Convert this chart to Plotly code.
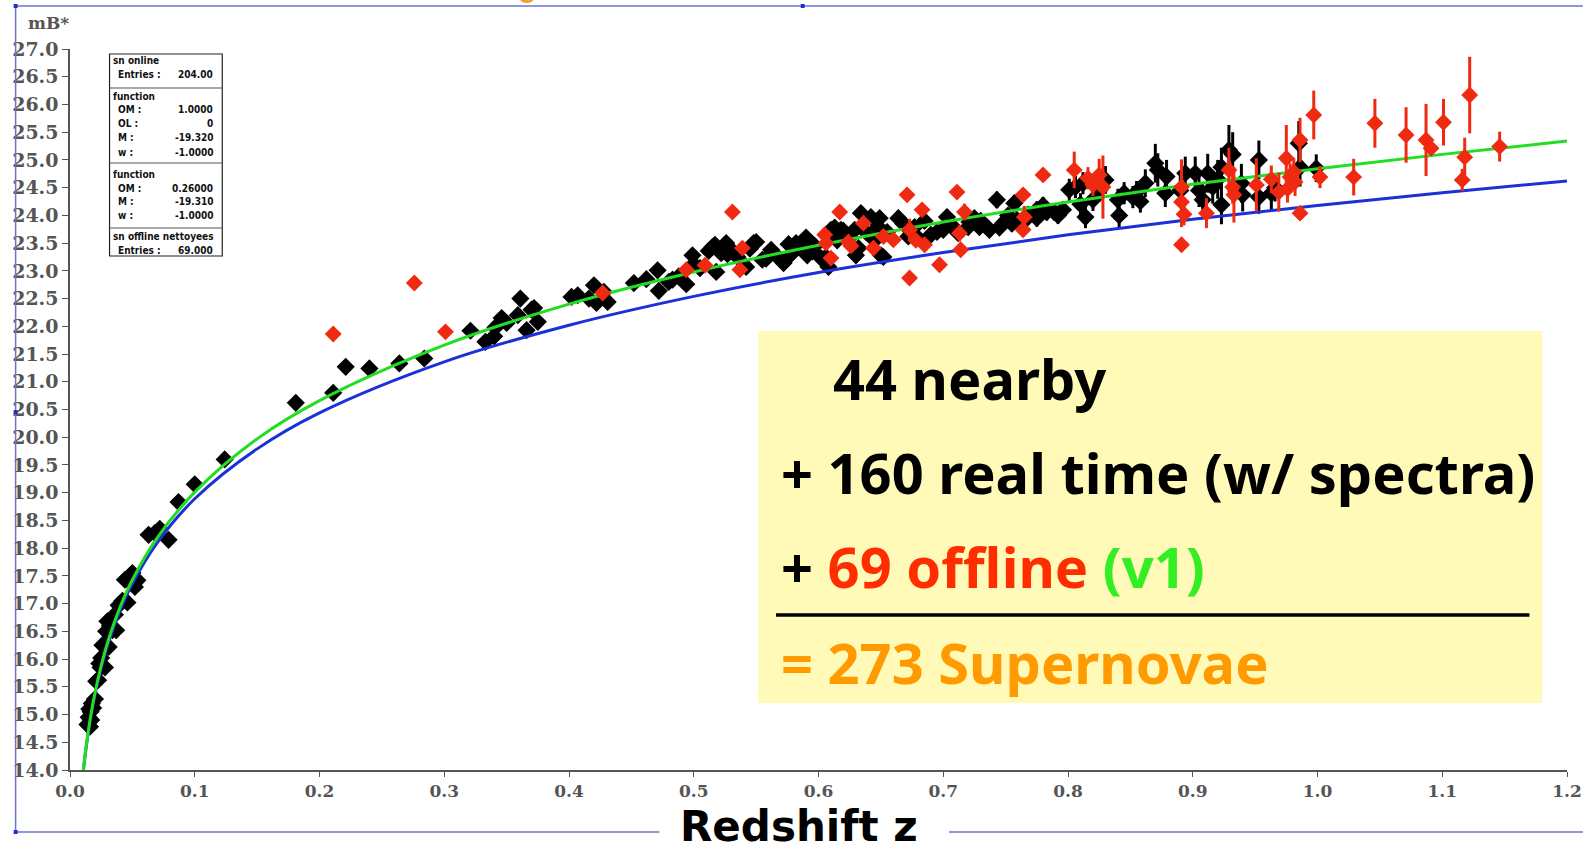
import plotly.graph_objects as go

# ---------------- data ----------------
# online SNe (black): nearby + real time
z_online = [
    0.0140, 0.0150, 0.0155, 0.0160, 0.0165, 0.0170, 0.0175, 0.0185, 0.0200, 0.0210,
    0.0225, 0.0235, 0.0245, 0.0250, 0.0260, 0.0280, 0.0285, 0.0290, 0.0300, 0.0310,
    0.0320, 0.0340, 0.0360, 0.0370, 0.0390, 0.0420, 0.0440, 0.0460, 0.0480, 0.0500,
    0.0520, 0.0540, 0.0630, 0.0680, 0.0720, 0.0790, 0.0870, 0.1000, 0.1240,
    0.181, 0.211, 0.221, 0.240, 0.264, 0.284, 0.321, 0.333, 0.340, 0.341,
    0.346, 0.350, 0.359, 0.361, 0.366, 0.370, 0.372, 0.375, 0.407, 0.416,
    0.420, 0.422, 0.431, 0.402, 0.428,
    0.452, 0.471, 0.472, 0.480, 0.483, 0.494, 0.499, 0.500, 0.515, 0.517,
    0.518, 0.522, 0.526, 0.527, 0.542, 0.548, 0.550, 0.555, 0.558, 0.572,
    0.576, 0.582, 0.584, 0.590, 0.591, 0.602, 0.606, 0.608, 0.610, 0.613,
    0.618, 0.620, 0.629, 0.630, 0.632, 0.512, 0.530, 0.565, 0.597,
    0.462, 0.488, 0.505, 0.535, 0.545, 0.562, 0.578, 0.595,
    0.615, 0.625, 0.638, 0.645, 0.655,
    0.634, 0.642, 0.649, 0.648, 0.650, 0.652, 0.664, 0.677, 0.679, 0.690,
    0.700, 0.703, 0.708, 0.720, 0.721, 0.729, 0.735, 0.737, 0.743, 0.748,
    0.757, 0.759, 0.768, 0.775, 0.783, 0.789, 0.796, 0.801, 0.806, 0.812,
    0.814, 0.820, 0.830, 0.840, 0.841, 0.852, 0.855, 0.862, 0.870, 0.872,
    0.878, 0.894, 0.902, 0.908, 0.912, 0.916,
    0.668, 0.685, 0.695, 0.712, 0.725, 0.745, 0.752, 0.765, 0.780, 0.792,
    0.672, 0.705, 0.730, 0.755, 0.775, 0.810, 0.825, 0.845, 0.858,
    0.923, 0.923, 0.929, 0.932, 0.939, 0.940, 0.953, 0.953, 0.963, 0.966,
    0.985, 0.986, 0.999, 0.879, 0.890, 0.905, 0.920,
]
m_online = [
    14.82, 14.95, 15.10, 14.78, 15.05, 14.90, 15.20, 15.12, 15.28, 15.60,
    15.62, 15.92, 15.85, 16.02, 16.25, 15.85, 16.22, 16.50, 16.68, 16.22,
    16.60, 16.52, 16.80, 16.52, 16.97, 17.05, 17.43, 17.02, 17.48, 17.55,
    17.30, 17.42, 18.24, 18.27, 18.35, 18.15, 18.83, 19.15, 19.60,
    20.62, 20.80, 21.27, 21.24, 21.33, 21.42, 21.92, 21.72, 21.82, 21.98,
    22.15, 22.06, 22.20, 22.50, 21.93, 22.30, 22.33, 22.08, 22.56, 22.50,
    22.74, 22.42, 22.44, 22.53, 22.62,
    22.78, 23.01, 22.64, 22.80, 22.84, 22.76, 23.28, 23.12, 23.43, 23.47,
    22.98, 23.32, 23.50, 23.30, 23.07, 23.50, 23.52, 23.20, 23.22, 23.14,
    23.48, 23.50, 23.44, 23.60, 23.28, 23.23, 23.25, 23.07, 23.74, 23.78,
    23.74, 23.72, 23.74, 23.28, 23.41, 23.36, 23.38, 23.30, 23.45,
    22.85, 22.90, 23.05, 23.25, 23.40, 23.38, 23.30, 23.35,
    23.55, 23.60, 23.70, 23.55, 23.70,
    24.04, 23.97, 23.95, 23.79, 23.28, 23.25, 23.95, 23.79, 23.61, 23.65,
    23.74, 23.97, 23.79, 23.79, 23.88, 23.79, 23.79, 23.74, 24.28, 23.86,
    24.22, 23.92, 24.01, 24.10, 24.06, 24.06, 24.10, 24.46, 24.51, 24.58,
    23.97, 24.28, 24.64, 24.28, 24.00, 24.33, 24.42, 24.58, 24.94, 24.82,
    24.40, 24.76, 24.76, 24.28, 24.76, 24.51,
    23.85, 23.90, 23.70, 23.68, 23.95, 23.78, 24.00, 23.90, 24.18, 24.00,
    23.62, 23.85, 23.90, 23.85, 23.95, 24.20, 24.45, 24.40, 24.25,
    24.19, 24.87, 25.18, 25.10, 24.58, 24.37, 25.00, 24.33, 24.40, 24.50,
    25.30, 24.87, 24.85, 24.70, 24.45, 24.45, 24.65,
]
e_online = (
    [0.08] * 39
    + [0.08] * 25
    + [0.08, 0.08, 0.08, 0.08, 0.08, 0.08, 0.08, 0.08, 0.08, 0.08,
       0.08, 0.10, 0.08, 0.08, 0.08, 0.10, 0.08, 0.08, 0.08, 0.08,
       0.10, 0.08, 0.08, 0.10, 0.08, 0.10, 0.10, 0.10, 0.10, 0.10,
       0.10, 0.10, 0.10, 0.10, 0.10, 0.08, 0.08, 0.08, 0.10]
    + [0.08, 0.08, 0.08, 0.08, 0.08, 0.08, 0.08, 0.10]
    + [0.10, 0.10, 0.10, 0.10, 0.10]
    + [0.12, 0.12, 0.12, 0.12, 0.14, 0.12, 0.14, 0.12, 0.12, 0.12,
       0.12, 0.14, 0.12, 0.14, 0.12, 0.12, 0.12, 0.12, 0.15, 0.12,
       0.15, 0.12, 0.15, 0.15, 0.15, 0.15, 0.15, 0.20, 0.20, 0.20,
       0.20, 0.20, 0.25, 0.20, 0.25, 0.20, 0.20, 0.25, 0.35, 0.30,
       0.25, 0.30, 0.30, 0.30, 0.35, 0.30]
    + [0.12, 0.12, 0.12, 0.12, 0.12, 0.12, 0.12, 0.14, 0.15, 0.15,
       0.12, 0.12, 0.12, 0.14, 0.15, 0.20, 0.20, 0.20, 0.20]
    + [0.35, 0.35, 0.45, 0.40, 0.35, 0.30, 0.35, 0.30, 0.30, 0.25,
       0.40, 0.35, 0.25, 0.30, 0.30, 0.30, 0.35]
)

# offline SNe (red)
z_offline = [
    0.211, 0.276, 0.301, 0.427,
    0.494, 0.509, 0.531, 0.539, 0.537,
    0.605, 0.606, 0.610, 0.617, 0.624,
    0.636, 0.644, 0.660, 0.671, 0.673, 0.673, 0.683, 0.685, 0.697, 0.711,
    0.713, 0.714, 0.717, 0.764, 0.765, 0.764, 0.780, 0.805, 0.816, 0.825, 0.828,
    0.891, 0.891, 0.891, 0.911, 0.929, 0.932, 0.933, 0.951, 0.969, 0.975,
    0.978, 0.981, 0.982, 0.986, 0.986, 0.997, 1.002, 1.029, 1.046, 1.071,
    1.087, 1.091, 1.101, 1.118, 1.116, 1.122, 1.146,
    0.626, 0.652, 0.678, 0.820, 0.976, 0.893, 0.963,
]
m_offline = [
    21.86, 22.78, 21.90, 22.60,
    23.02, 23.10, 24.06, 23.41, 23.02,
    23.65, 23.50, 23.23, 24.06, 23.52,
    23.86, 23.41, 23.56, 24.37, 23.74, 22.87, 24.10, 23.47, 23.11, 24.42,
    23.68, 23.38, 24.06, 24.37, 23.97, 23.74, 24.73, 24.82, 24.67, 24.73, 24.51,
    24.51, 24.24, 23.47, 24.04, 24.82, 24.51, 24.37, 24.55, 24.42, 25.03,
    24.69, 24.78, 24.60, 25.36, 24.04, 25.81, 24.69, 24.69, 25.66, 25.45,
    25.36, 25.21, 25.68, 25.05, 24.64, 26.17, 25.24,
    23.45, 23.62, 23.55, 24.55, 24.48, 24.02, 24.65,
]
e_offline = [
    0.06, 0.06, 0.06, 0.08,
    0.08, 0.08, 0.10, 0.10, 0.10,
    0.10, 0.10, 0.10, 0.12, 0.10,
    0.10, 0.10, 0.10, 0.12, 0.20, 0.10, 0.10, 0.10, 0.10, 0.10,
    0.15, 0.10, 0.15, 0.12, 0.20, 0.12, 0.12, 0.33, 0.20, 0.29, 0.57,
    0.50, 0.45, 0.10, 0.27, 0.40, 0.30, 0.50, 0.48, 0.35, 0.60,
    0.25, 0.25, 0.25, 0.40, 0.12, 0.44, 0.20, 0.33, 0.44, 0.50,
    0.65, 0.12, 0.42, 0.35, 0.20, 0.69, 0.27,
    0.10, 0.10, 0.10, 0.20, 0.25, 0.20, 0.25,
]

# model curves
z_curve = [0.010, 0.0125, 0.015, 0.0175, 0.02, 0.025, 0.03, 0.04, 0.05, 0.07,
           0.10, 0.15, 0.20, 0.30, 0.40, 0.50, 0.60, 0.70, 0.80, 0.90,
           1.00, 1.10, 1.20]
m_lcdm = [13.87, 14.35, 14.75, 15.09, 15.39, 15.88, 16.29, 16.93, 17.43, 18.19,
          19.01, 19.97, 20.66, 21.66, 22.40, 22.98, 23.46, 23.88, 24.24, 24.56,
          24.84, 25.10, 25.34]
m_eds = [13.84, 14.33, 14.73, 15.06, 15.35, 15.84, 16.24, 16.87, 17.36, 18.10,
         18.89, 19.79, 20.44, 21.36, 22.02, 22.54, 22.97, 23.33, 23.65, 23.93,
         24.18, 24.41, 24.62]

x_ticks = [0.0, 0.1, 0.2, 0.3, 0.4, 0.5, 0.6, 0.7, 0.8, 0.9, 1.0, 1.1, 1.2]
y_ticks = [14.0 + 0.5 * i for i in range(27)]

stats_rows = [
    ("sn online", ""),
    ("  Entries :", "204.00"),
    ("function", ""),
    ("  OM :", "1.0000"),
    ("  OL :", "0"),
    ("  M :", "-19.320"),
    ("  w :", "-1.0000"),
    ("function", ""),
    ("  OM :", "0.26000"),
    ("  M :", "-19.310"),
    ("  w :", "-1.0000"),
    ("sn offline nettoyees", ""),
    ("  Entries :", "69.000"),
]

# ---------------- layout helpers (pixel -> paper) ----------------
W, H = 1594, 853
PL, PR, PT, PB = 64, 1578, 49, 770


def px(x):
    return (x - PL) / (PR - PL)


def py(y):
    return (PB - y) / (PB - PT)


BLACK = "#000000"
RED = "#f02a10"
GREEN = "#22dd22"
BLUE = "#1a30d8"
FRAME = "#6a74c8"
AXC = "#555555"

fig = go.Figure()

fig.add_trace(go.Scatter(
    x=z_online, y=m_online, mode="markers", name="sn online",
    marker=dict(symbol="diamond", size=14, color=BLACK, line=dict(width=0)),
    error_y=dict(type="data", array=e_online, color=BLACK, thickness=3, width=0),
    showlegend=False,
))
fig.add_trace(go.Scatter(
    x=z_curve, y=m_eds, mode="lines", line=dict(color=BLUE, width=3, shape="spline"),
    showlegend=False, hoverinfo="skip",
))
fig.add_trace(go.Scatter(
    x=z_curve, y=m_lcdm, mode="lines", line=dict(color=GREEN, width=3, shape="spline"),
    showlegend=False, hoverinfo="skip",
))
fig.add_trace(go.Scatter(
    x=z_offline, y=m_offline, mode="markers", name="sn offline",
    marker=dict(symbol="diamond", size=13, color=RED, line=dict(width=0)),
    error_y=dict(type="data", array=e_offline, color=RED, thickness=3, width=0),
    showlegend=False,
))

tick_font_y = dict(family="DejaVu Serif", size=19, color=AXC, weight="bold")
tick_font_x = dict(family="DejaVu Serif", size=17, color=AXC, weight="bold")

fig.update_layout(
    width=W, height=H,
    margin=dict(l=PL, r=W - PR, t=PT, b=H - PB, pad=0),
    paper_bgcolor="white", plot_bgcolor="white",
    showlegend=False,
    xaxis=dict(
        range=[0, 1.2], tickvals=x_ticks, ticktext=[f"{v:.1f}" for v in x_ticks],
        showgrid=False, zeroline=False, showline=True, linecolor=AXC, linewidth=1.5,
        ticks="outside", ticklen=5, tickwidth=1.2, tickcolor=AXC, tickfont=tick_font_x,
        fixedrange=True,
    ),
    yaxis=dict(
        range=[14, 27], tickvals=y_ticks, ticktext=[f"{v:.1f}" for v in y_ticks],
        showgrid=False, zeroline=False, showline=True, linecolor=AXC, linewidth=1.5,
        ticks="outside", ticklen=6, tickwidth=1.2, tickcolor=AXC, tickfont=tick_font_y,
        fixedrange=True,
    ),
    xaxis2=dict(
        range=[0, 1.2], overlaying="x", anchor="y", side="bottom", tickvals=x_ticks,
        showticklabels=False, showgrid=False, zeroline=False, showline=False,
        ticks="inside", ticklen=5, tickwidth=1.2, tickcolor=AXC, fixedrange=True,
    ),
    yaxis2=dict(
        range=[14, 27], overlaying="y", anchor="x", side="left", tickvals=y_ticks,
        showticklabels=False, showgrid=False, zeroline=False, showline=False,
        ticks="inside", ticklen=5, tickwidth=1.2, tickcolor=AXC, fixedrange=True,
    ),
)

shapes = []
annotations = []


def seg(x0, y0, x1, y1, color=FRAME, width=1.5):
    shapes.append(dict(type="line", xref="paper", yref="paper",
                       x0=px(x0), y0=py(y0), x1=px(x1), y1=py(y1),
                       line=dict(color=color, width=width)))


# slide frame (blue selection outline)
seg(9, 6, 1594, 6)
seg(9, 6, 9, 832)
seg(9, 832, 660, 832)
seg(953, 832, 1594, 832)
for hx, hy in [(9, 6), (9, 412), (9, 832), (805, 6)]:
    shapes.append(dict(type="rect", xref="paper", yref="paper",
                       x0=px(hx - 2), x1=px(hx + 2), y0=py(hy + 2), y1=py(hy - 2),
                       fillcolor="#2030d0", line=dict(width=0)))
# tiny orange remnant at the very top
shapes.append(dict(type="circle", xref="paper", yref="paper",
                   x0=px(519), x1=px(533), y0=py(3), y1=py(-6),
                   fillcolor="#f5a030", line=dict(width=0)))

# yellow summary box
shapes.append(dict(type="rect", xref="paper", yref="paper", layer="below",
                   x0=px(760), x1=px(1553), y0=py(703), y1=py(331),
                   fillcolor="#fffab8", line=dict(width=0)))
seg(778, 615, 1540, 615, color="#000000", width=3.5)

BIG = dict(family="Noto Sans", size=56, color="#000000", weight="bold")
annotations.append(dict(x=px(834), y=py(378), xref="paper", yref="paper",
                        text="44 nearby", showarrow=False, xanchor="left", yanchor="middle",
                        font=BIG))
annotations.append(dict(x=px(781), y=py(472), xref="paper", yref="paper",
                        text="+ 160 real time (w/ spectra)", showarrow=False,
                        xanchor="left", yanchor="middle", font=BIG))
annotations.append(dict(x=px(781), y=py(566), xref="paper", yref="paper",
                        text="+ <span style='color:#ff2d00'>69 offline</span> "
                             "<span style='color:#33ee22'>(v1)</span>",
                        showarrow=False, xanchor="left", yanchor="middle", font=BIG))
annotations.append(dict(x=px(781), y=py(662), xref="paper", yref="paper",
                        text="= 273 Supernovae", showarrow=False, xanchor="left",
                        yanchor="middle", font=dict(BIG, color="#ff9a00")))

# axis titles
annotations.append(dict(x=px(801), y=py(852), xref="paper", yref="paper",
                        text="Redshift z", showarrow=False, xanchor="center",
                        yanchor="bottom", borderpad=0,
                        font=dict(family="DejaVu Sans", size=42, color="#000000",
                                  weight="bold")))
annotations.append(dict(x=px(19), y=py(23), xref="paper", yref="paper",
                        text="mB*", showarrow=False, xanchor="left", yanchor="middle",
                        font=dict(family="DejaVu Serif", size=17, color=AXC,
                                  weight="bold")))

# statistics box
BX0, BX1, BY0, BY1 = 104, 218, 54, 256
shapes.append(dict(type="rect", xref="paper", yref="paper",
                   x0=px(BX0), x1=px(BX1), y0=py(BY1), y1=py(BY0),
                   fillcolor="white", line=dict(color="#222222", width=1.2)))
for sy in [88, 163, 228]:
    seg(BX0, sy, BX1, sy, color="#555555", width=1.2)
row_y = [61, 75, 97, 110, 124, 138, 152, 174, 188, 201, 215, 236, 250]
SMALL = dict(family="DejaVu Sans Condensed, DejaVu Sans", size=10, color="#111111",
             weight="bold")
for (lab, val), ry in zip(stats_rows, row_y):
    lx = 105 if not lab.startswith("  ") else 111
    annotations.append(dict(x=px(lx), y=py(ry), xref="paper", yref="paper",
                            text=lab.strip(), showarrow=False, xanchor="left",
                            yanchor="middle", font=SMALL))
    if val:
        annotations.append(dict(x=px(211), y=py(ry), xref="paper", yref="paper",
                                text=val, showarrow=False, xanchor="right",
                                yanchor="middle", font=SMALL))

fig.update_layout(shapes=shapes, annotations=annotations)

fig.write_html("out.html",
               config={"displayModeBar": False},
               post_script="document.body.style.margin='0';"
                           "document.body.style.overflow='hidden';")
